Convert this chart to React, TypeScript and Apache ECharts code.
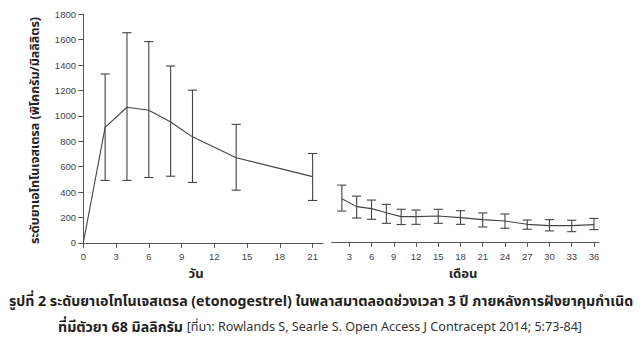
import React, { useEffect, useRef } from "react";
import * as echarts from "echarts";

// Days after insertion (left panel)
const dayX = [0, 2, 4, 6, 8, 10, 14, 21];
const dayMean = [0, 910, 1068, 1045, 952, 835, 670, 522];
const dayUpper = [null, 1330, 1655, 1585, 1393, 1203, 933, 704];
const dayLower = [null, 492, 492, 515, 525, 476, 415, 334];
const dayTicks = [0, 3, 6, 9, 12, 15, 18, 21];

// Months after insertion (right panel)
const monthX = [2, 4, 6, 8, 10, 12, 15, 18, 21, 24, 27, 30, 33, 36];
const monthMean = [342, 279, 263, 231, 200, 200, 205, 192, 176, 165, 139, 129, 129, 137];
const monthUpper = [449, 362, 331, 297, 258, 252, 258, 247, 229, 221, 173, 176, 171, 186];
const monthLower = [244, 189, 179, 147, 137, 139, 147, 139, 118, 108, 100, 87, 81, 97];
const monthTicks = [3, 6, 9, 12, 15, 18, 21, 24, 27, 30, 33, 36];

const yTicks = [0, 200, 400, 600, 800, 1000, 1200, 1400, 1600, 1800];

const yTitle = "ระดับยาเอโทโนเจสเตรล (พิโคกรัม/มิลลิลิตร)";
const xTitleLeft = "วัน";
const xTitleRight = "เดือน";
const caption1 = "รูปที่ 2 ระดับยาเอโทโนเจสเตรล (etonogestrel) ในพลาสมาตลอดช่วงเวลา 3 ปี ภายหลังการฝังยาคุมกำเนิด";
const caption2a = "ที่มีตัวยา 68 มิลลิกรัม ";
const caption2b = "[ที่มา: Rowlands S, Searle S. Open Access J Contracept 2014; 5:73-84]";

const THAI = "'Noto Sans Thai', 'Leelawadee UI', Tahoma, 'Noto Sans', sans-serif";
const TICKFONT = "'Liberation Sans', Arial, Helvetica, sans-serif";
const AXIS_COLOR = "#555";
const LINE_COLOR = "#444";

function errData(xs: number[], hi: (number | null)[], lo: (number | null)[]) {
  const out: number[][] = [];
  xs.forEach((x, i) => {
    if (hi[i] != null && lo[i] != null) out.push([x, hi[i] as number, lo[i] as number]);
  });
  return out;
}

const renderErr = (params: any, api: any) => {
  const x = api.value(0);
  const hi = api.coord([x, api.value(1)]);
  const lo = api.coord([x, api.value(2)]);
  const w = 4.6;
  const style = { stroke: LINE_COLOR, lineWidth: 1.1, fill: "none" };
  return {
    type: "group",
    children: [
      { type: "line", shape: { x1: hi[0], y1: hi[1], x2: lo[0], y2: lo[1] }, style },
      { type: "line", shape: { x1: hi[0] - w, y1: hi[1], x2: hi[0] + w, y2: hi[1] }, style },
      { type: "line", shape: { x1: lo[0] - w, y1: lo[1], x2: lo[0] + w, y2: lo[1] }, style },
    ],
  };
};

export default function App() {
  const ref = useRef<HTMLDivElement>(null);
  useEffect(() => {
    document.body.style.margin = "0";
    if (!ref.current) return;
    const chart = echarts.init(ref.current, null, { renderer: "svg" });
    const axisCommon = {
      axisLine: { show: true, lineStyle: { color: AXIS_COLOR, width: 1 } },
      axisTick: { show: true, length: 5, lineStyle: { color: AXIS_COLOR } },
      axisLabel: {
        color: "#444",
        fontSize: 9.5,
        fontFamily: TICKFONT,
        formatter: (v: number) => String(v),
      },
      splitLine: { show: false },
    };
    chart.setOption({
      animation: false,
      backgroundColor: "#fff",
      grid: [
        { left: 80, top: 14.3, width: 243, height: 232.4 },
        { left: 331.7, top: 14.3, width: 267.3, height: 231.4 },
      ],
      xAxis: [
        {
          type: "value",
          gridIndex: 0,
          min: -0.3,
          max: 21.95,
          ...axisCommon,
          axisTick: { ...axisCommon.axisTick, customValues: dayTicks },
          axisLabel: { ...axisCommon.axisLabel, customValues: dayTicks, margin: 5 },
        },
        {
          type: "value",
          gridIndex: 1,
          min: 0.63,
          max: 36.68,
          ...axisCommon,
          axisTick: { ...axisCommon.axisTick, customValues: monthTicks },
          axisLabel: { ...axisCommon.axisLabel, customValues: monthTicks, margin: 6 },
        },
      ],
      yAxis: [
        {
          type: "value",
          gridIndex: 0,
          min: -30,
          max: 1800,
          ...axisCommon,
          axisTick: { ...axisCommon.axisTick, customValues: yTicks },
          axisLabel: { ...axisCommon.axisLabel, customValues: yTicks, margin: 4 },
          name: yTitle,
          nameLocation: "middle",
          nameRotate: 90,
          nameGap: 38,
          nameTextStyle: { fontFamily: THAI, fontWeight: "bold", fontSize: 12.5, color: "#222" },
        },
        {
          type: "value",
          gridIndex: 1,
          min: -30,
          max: 1800,
          show: false,
        },
      ],
      series: [
        {
          type: "line",
          xAxisIndex: 0,
          yAxisIndex: 0,
          data: dayX.map((x, i) => [x, dayMean[i]]),
          showSymbol: false,
          lineStyle: { color: LINE_COLOR, width: 1.1 },
        },
        {
          type: "custom",
          xAxisIndex: 0,
          yAxisIndex: 0,
          data: errData(dayX, dayUpper, dayLower),
          renderItem: renderErr,
        },
        {
          type: "line",
          xAxisIndex: 1,
          yAxisIndex: 1,
          data: monthX.map((x, i) => [x, monthMean[i]]),
          showSymbol: false,
          lineStyle: { color: LINE_COLOR, width: 1.1 },
        },
        {
          type: "custom",
          xAxisIndex: 1,
          yAxisIndex: 1,
          data: errData(monthX, monthUpper, monthLower),
          renderItem: renderErr,
        },
      ],
      graphic: [
        {
          type: "text",
          x: 196,
          y: 274,
          style: {
            text: xTitleLeft,
            font: `bold 13px ${THAI}`,
            fill: "#222",
            textAlign: "center",
            textVerticalAlign: "middle",
          },
        },
        {
          type: "text",
          x: 463,
          y: 274,
          style: {
            text: xTitleRight,
            font: `bold 13px ${THAI}`,
            fill: "#222",
            textAlign: "center",
            textVerticalAlign: "middle",
          },
        },
        {
          type: "text",
          x: 321,
          y: 301,
          style: {
            text: caption1,
            font: `bold 14.2px ${THAI}`,
            fill: "#222",
            textAlign: "center",
            textVerticalAlign: "middle",
          },
        },
        {
          type: "text",
          x: 320,
          y: 327,
          style: {
            text: `{b|${caption2a}}{n|${caption2b}}`,
            textAlign: "center",
            textVerticalAlign: "middle",
            rich: {
              b: { font: `bold 14.2px ${THAI}`, fill: "#222" },
              n: { font: `12.6px ${THAI}`, fill: "#333" },
            },
          },
        },
      ],
    });
    return () => chart.dispose();
  }, []);
  return <div ref={ref} style={{ width: 643, height: 352 }} />;
}
